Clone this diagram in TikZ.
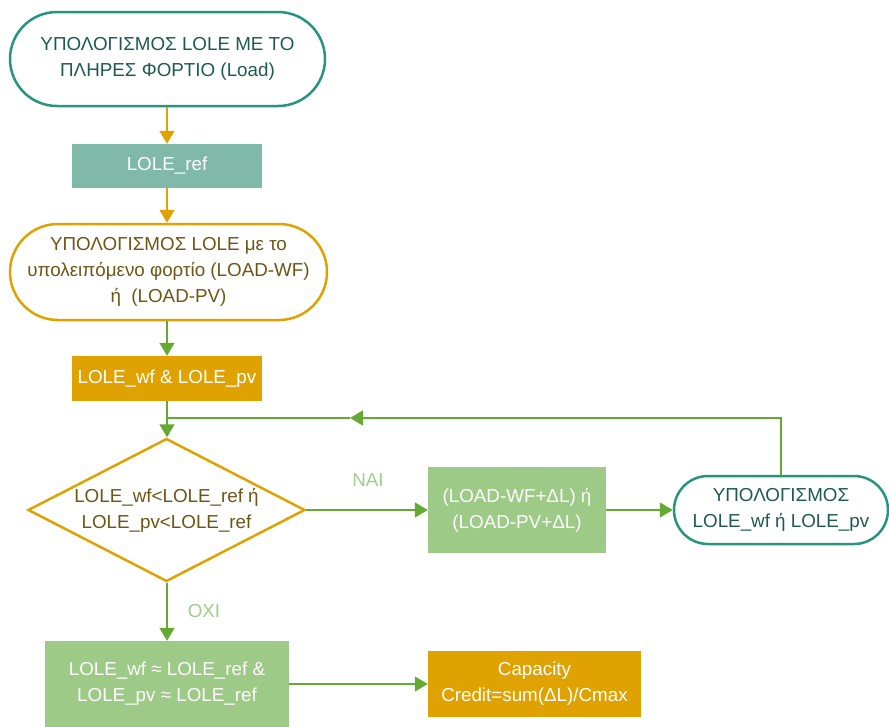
\documentclass[tikz,border=0pt]{standalone}
\usepackage{fontspec}
\setmainfont{Liberation Sans}
\usetikzlibrary{arrows.meta,shapes.geometric}
\definecolor{tealb}{RGB}{38,148,128}
\definecolor{tealt}{RGB}{30,90,80}
\definecolor{reffill}{RGB}{128,185,168}
\definecolor{orng}{RGB}{224,162,0}
\definecolor{olive}{RGB}{110,85,20}
\definecolor{grn}{RGB}{100,170,50}
\definecolor{lgrn}{RGB}{157,203,135}
\definecolor{lbl}{RGB}{160,205,140}
\tikzset{
  txt/.style={font=\fontsize{18.8}{25.8}\selectfont, align=center},
  term/.style={txt, draw, line width=2.5pt, fill=white, rounded corners=#1, inner sep=0pt},
  fbox/.style={txt, text=white, inner sep=0pt},
  tip/.style={-{Triangle[length=13pt,width=15pt]}},
  oline/.style={draw=orng, line width=1.5pt, tip, color=orng},
  gline/.style={draw=grn, line width=1.5pt, color=grn},
  glabel/.style={txt, text=lbl}
}
\begin{document}
\begin{tikzpicture}[x=1pt,y=-1pt]
\useasboundingbox (0,0) rectangle (889,726);
% nodes
\node[term=47pt, draw=tealb, text=tealt, minimum width=315pt, minimum height=94pt] (t1) at (167.5,59) {ΥΠΟΛΟΓΙΣΜΟΣ LOLE ΜΕ ΤΟ\\ΠΛΗΡΕΣ ΦΟΡΤΙΟ (Load)};
\node[fbox, fill=reffill, minimum width=190pt, minimum height=44pt] (ref) at (167,166) {LOLE\_ref};
\node[term=48pt, draw=orng, text=olive, minimum width=317pt, minimum height=96pt] (t2) at (168.5,272) {ΥΠΟΛΟΓΙΣΜΟΣ LOLE με το\\υπολειπόμενο φορτίο (LOAD-WF)\\ή\ \ (LOAD-PV)};
\node[fbox, fill=orng, minimum width=190pt, minimum height=45pt] (wfpv) at (167,378.5) {LOLE\_wf \& LOLE\_pv};
\node[diamond, draw=orng, line width=2.5pt, fill=white, minimum width=277pt, minimum height=143pt, inner sep=0pt] (d) at (166.5,510) {};
\node[txt, text=olive] (dt) at (d.center) {LOLE\_wf<LOLE\_ref ή\\LOLE\_pv<LOLE\_ref};
\node[fbox, fill=lgrn, minimum width=178pt, minimum height=86pt] (inc) at (517,510) {(LOAD-WF+ΔL) ή\\(LOAD-PV+ΔL)};
\node[term=34pt, draw=tealb, text=tealt, minimum width=214pt, minimum height=68pt] (t3) at (781,510) {ΥΠΟΛΟΓΙΣΜΟΣ\\LOLE\_wf ή LOLE\_pv};
\node[fbox, fill=lgrn, minimum width=244pt, minimum height=86pt] (eq) at (167,684) {LOLE\_wf ≈ LOLE\_ref \&\\LOLE\_pv ≈ LOLE\_ref};
\node[fbox, fill=orng, minimum width=213pt, minimum height=66pt] (cc) at (534.5,684) {Capacity\\Credit=sum(ΔL)/Cmax};
\node[glabel] (nai) at (368,480) {NAI};
\node[glabel] (oxi) at (204,611) {OXI};
\coordinate (junc) at (167,418);
\coordinate (fbtip) at (350,418);
% connectors
\draw[oline] (t1.south -| ref.north) -- (ref.north);
\draw[oline] (ref.south) -- (ref.south |- t2.north);
\draw[gline, tip] (t2.south -| wfpv.north) -- (wfpv.north);
\draw[gline, tip] (wfpv.south) -- (wfpv.south |- d.north);
\draw[gline, tip] (d.east) -- (d.east -| inc.west);
\draw[gline, tip] (inc.east) -- (t3.west);
\draw[gline, tip] (t3.north) |- (fbtip);
\draw[gline] (fbtip) -- (junc);
\draw[gline, tip] (d.south -| eq.north) -- (eq.north);
\draw[gline, tip] (eq.east) -- (cc.west);
\end{tikzpicture}
\end{document}
